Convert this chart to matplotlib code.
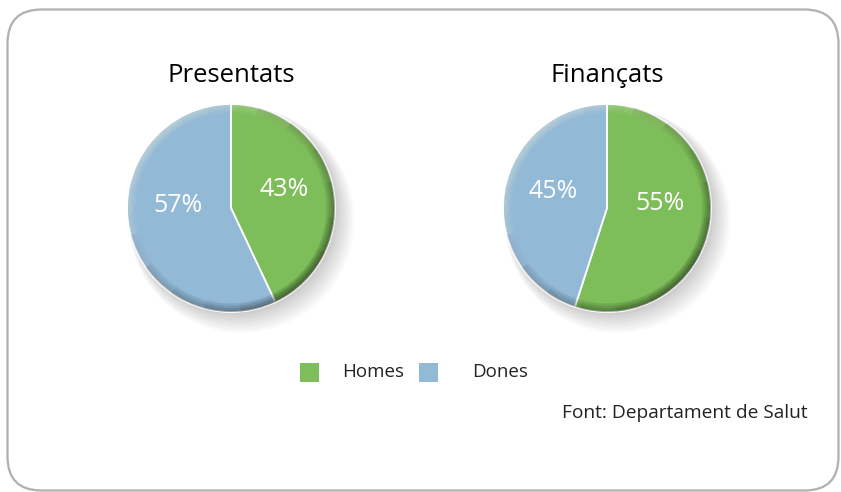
import math
import matplotlib
matplotlib.use("Agg")
import matplotlib.pyplot as plt
from matplotlib.patches import FancyBboxPatch, Rectangle, Circle, Wedge

plt.rcParams['font.family'] = ['Open Sans', 'DejaVu Sans']

# Dades
titols = ["Presentats", "Finançats"]
categories = ["Homes", "Dones"]
homes = [43, 55]
dones = [57, 45]
colors = ["#7dbd5a", "#92b9d6"]
font_text = "Font: Departament de Salut"

W, H = 841, 492
fig = plt.figure(figsize=(W / 100, H / 100), dpi=100)

# capa de fons en píxels
fons = fig.add_axes([0, 0, 1, 1])
fons.set_xlim(0, W)
fons.set_ylim(H, 0)
fons.axis("off")
fons.add_patch(FancyBboxPatch((7.5, 9.5), 831, 481,
                              boxstyle="round,pad=0,rounding_size=34",
                              fc="white", ec="#b0b0b0", lw=1.6))

centres = [231, 607]
radi = 104
cy = 208

for i in range(2):
    cx = centres[i]
    ax = fig.add_axes([(cx - radi) / W, (H - cy - radi) / H, 2 * radi / W, 2 * radi / H])
    valors = [homes[i], dones[i]]
    # ombra suau cap avall a la dreta
    for k in range(8):
        ax.add_patch(Circle((0.03 + 0.01 * k, -0.03 - 0.012 * k), 1.0 + 0.012 * k,
                            color="black", alpha=0.022, lw=0, zorder=0, clip_on=False))
    wedges, texts = ax.pie(valors, colors=colors, startangle=90, counterclock=False,
                           wedgeprops=dict(edgecolor="white", linewidth=1.3))
    for w in wedges:
        w.set_zorder(2)
        w.set_clip_on(False)
    # bisell: fosc a baix a la dreta, clar a dalt a l'esquerra (amb esvaïment)
    for j in range(6):
        mig_ang = 120 - 20 * j
        for k in range(4):
            ax.add_patch(Wedge((0, 0), 1.0, -45 - mig_ang, -45 + mig_ang, width=0.015 + 0.022 * k,
                               color="black", alpha=0.022, lw=0, zorder=2.5, clip_on=False))
            ax.add_patch(Wedge((0, 0), 1.0, 135 - mig_ang * 0.8, 135 + mig_ang * 0.8, width=0.015 + 0.022 * k,
                               color="white", alpha=0.025, lw=0, zorder=2.5, clip_on=False))
    # etiquetes
    angle = 90
    for v in valors:
        mig = angle - v / 100 * 360 / 2
        x = 0.52 * math.cos(math.radians(mig))
        y = 0.35 * math.sin(math.radians(mig))
        ax.text(x, y + 0.1, str(v) + "%", color="white", fontsize=18,
                ha="center", va="center", zorder=3)
        angle = angle - v / 100 * 360
    ax.set_xlim(-1, 1)
    ax.set_ylim(-1, 1)
    ax.axis("off")
    fons.text(cx, 75, titols[i], fontsize=18.5, ha="center", va="center", color="black")

# llegenda
fons.add_patch(Rectangle((300, 363), 19, 19, fc=colors[0], ec="none"))
fons.text(342, 372, categories[0], fontsize=13.5, va="center", color="#222222")
fons.add_patch(Rectangle((419, 363), 19, 19, fc=colors[1], ec="none"))
fons.text(472, 372, categories[1], fontsize=13.5, va="center", color="#222222")

fons.text(808, 413, font_text, fontsize=13.8, ha="right", va="center", color="#222222")

fig.savefig("out.png", dpi=100)
